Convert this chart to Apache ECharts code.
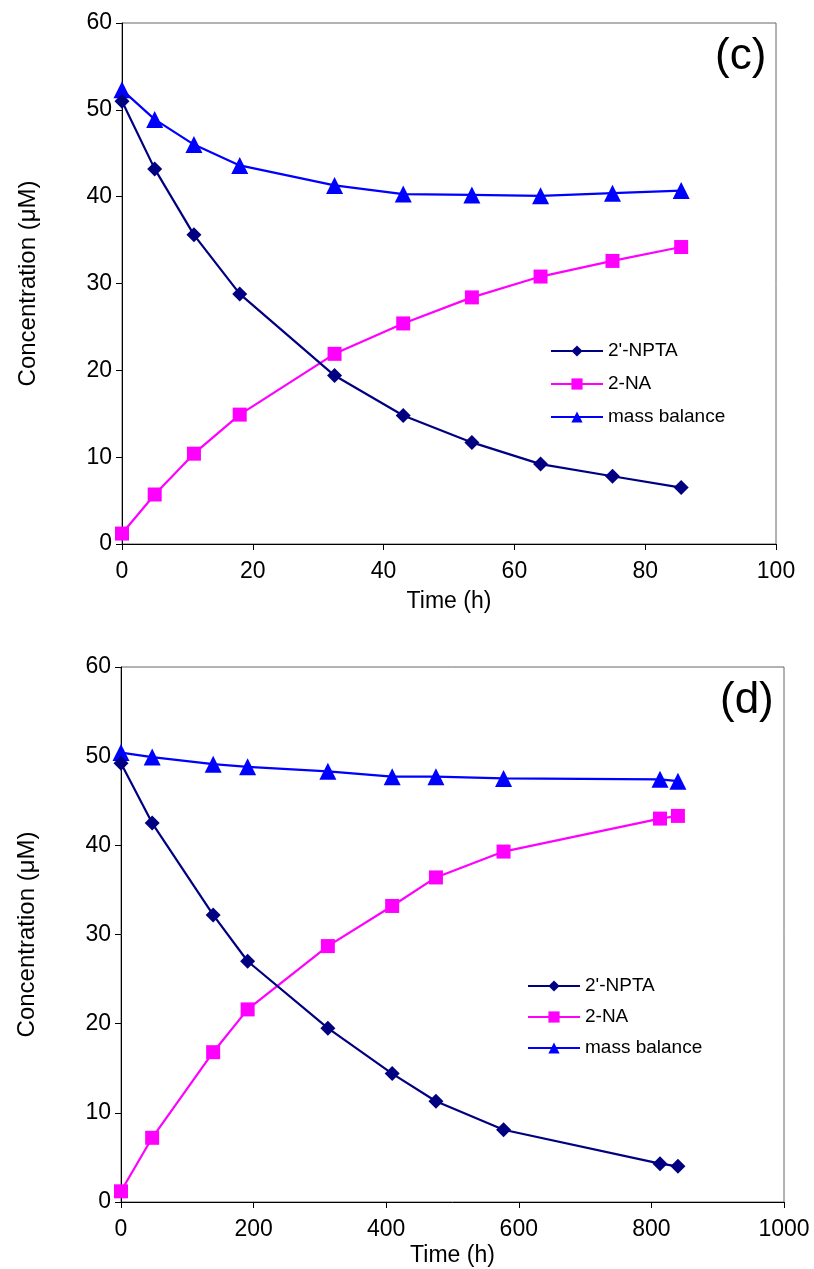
<!DOCTYPE html>
<html><head><meta charset="utf-8">
<script src="https://cdn.jsdelivr.net/npm/echarts@6/dist/echarts.min.js"></script>
<style>html,body{margin:0;padding:0;background:#fff}#c{width:814px;height:1269px}</style>
</head><body><div id="c"></div>
<script>
// Panel (c)
const timeC = [0, 5, 11, 18, 32.5, 43, 53.5, 64, 75, 85.5];
const nptaC = [51.0, 43.2, 35.6, 28.8, 19.4, 14.8, 11.7, 9.2, 7.8, 6.5];
const naC   = [1.2, 5.7, 10.4, 14.9, 21.9, 25.4, 28.4, 30.8, 32.6, 34.2];
const mbC   = [52.3, 48.9, 46.0, 43.6, 41.3, 40.3, 40.2, 40.1, 40.4, 40.7];
// Panel (d)
const timeD = [0, 47, 139, 191, 312, 409, 475, 577, 813, 840];
const nptaD = [49.2, 42.5, 32.2, 27.0, 19.5, 14.4, 11.3, 8.1, 4.3, 4.0];
const naD   = [1.2, 7.2, 16.8, 21.6, 28.7, 33.2, 36.4, 39.3, 43.0, 43.3];
const mbD   = [50.4, 49.9, 49.1, 48.8, 48.3, 47.7, 47.7, 47.5, 47.4, 47.2];

const seriesNames = ["2'-NPTA", "2-NA", "mass balance"];
const colors = ['#000080', '#FF00FF', '#0000FF'];
const symbols = ['diamond', 'rect', 'triangle'];
const symSizes = [15, 14, 17];

const FONT = 'Liberation Sans, Arial, sans-serif';
const pair = (xs, ys) => xs.map((x, i) => [x, ys[i]]);

function mkSeries(gi, arrs, xs) {
  return arrs.map((ys, k) => ({
    name: seriesNames[k], type: 'line', xAxisIndex: gi, yAxisIndex: gi,
    data: pair(xs, ys), symbol: symbols[k], symbolSize: symSizes[k],
    lineStyle: { color: colors[k], width: 2.2 }, itemStyle: { color: colors[k] },
    z: 3 + (2 - k), animation: false
  }));
}

function xAx(gi, max, interval, gap) {
  return {
    type: 'value', gridIndex: gi, min: 0, max: max, interval: interval,
    name: 'Time (h)', nameLocation: 'middle', nameGap: gap,
    nameTextStyle: { fontFamily: FONT, fontSize: 23, color: '#000' },
    axisLine: { show: true, onZero: false, lineStyle: { color: '#000', width: 1 } },
    axisTick: { show: true, inside: false, length: 6, lineStyle: { color: '#000' } },
    axisLabel: { fontFamily: FONT, fontSize: 23, color: '#000', margin: 16, formatter: v => String(v) },
    splitLine: { show: false }
  };
}
function yAx(gi) {
  return {
    type: 'value', gridIndex: gi, min: 0, max: 60, interval: 10,
    name: 'Concentration (μM)', nameLocation: 'middle', nameGap: 82, nameRotate: 90,
    nameTextStyle: { fontFamily: FONT, fontSize: 24, color: '#000' },
    axisLine: { show: true, onZero: false, lineStyle: { color: '#000', width: 1 } },
    axisTick: { show: true, inside: false, length: 6, lineStyle: { color: '#000' } },
    axisLabel: { fontFamily: FONT, fontSize: 23, color: '#000', margin: 10 },
    splitLine: { show: false }
  };
}

const legendText = { fontFamily: FONT, fontSize: 19, color: '#000', lineHeight: 20 };

const chart = echarts.init(document.getElementById('c'), null, { renderer: 'canvas' });
chart.setOption({
  backgroundColor: '#fff',
  animation: false,
  title: [
    { text: '(c)', left: 710, top: 30, textStyle: { fontFamily: FONT, fontSize: 44, fontWeight: 'normal', color: '#000' } },
    { text: '(d)', left: 715, top: 674, textStyle: { fontFamily: FONT, fontSize: 44, fontWeight: 'normal', color: '#000' } }
  ],
  grid: [
    { left: 122, top: 23, width: 654, height: 521, show: true, borderColor: '#666', borderWidth: 1, backgroundColor: 'transparent' },
    { left: 121, top: 667, width: 663, height: 535, show: true, borderColor: '#666', borderWidth: 1, backgroundColor: 'transparent' }
  ],
  legend: [
    { left: 545, top: 336, orient: 'vertical', itemWidth: 52, itemHeight: 14, itemGap: 13,
      textStyle: legendText, data: seriesNames.map(n => ({ name: n })), selectedMode: false },
    { left: 522, top: 971, orient: 'vertical', itemWidth: 52, itemHeight: 14, itemGap: 11,
      textStyle: legendText, data: seriesNames.map(n => ({ name: n })), selectedMode: false }
  ],
  xAxis: [xAx(0, 100, 20, 46), xAx(1, 1000, 200, 42)],
  yAxis: [yAx(0), yAx(1)],
  series: [
    ...mkSeries(0, [nptaC, naC, mbC], timeC),
    ...mkSeries(1, [nptaD, naD, mbD], timeD)
  ]
});
</script></body></html>
